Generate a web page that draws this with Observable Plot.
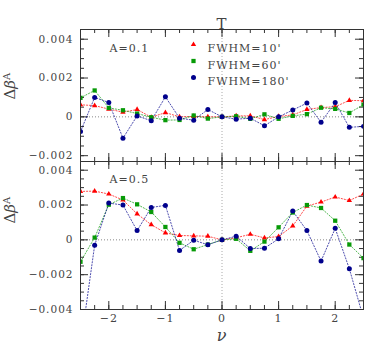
<!DOCTYPE html>
<html><head><meta charset="utf-8">
<script src="https://cdn.jsdelivr.net/npm/d3@7"></script>
<script src="https://cdn.jsdelivr.net/npm/@observablehq/plot@0.6"></script>
<style>
body{margin:0;background:#fff;}
#chart{position:relative;width:374px;height:346px;background:#fff;}
#chart svg{position:absolute;left:0;}
</style></head><body><div id="chart"></div>
<script>
// ---- data ----
const nu = [-2.5,-2.25,-2,-1.75,-1.5,-1.25,-1,-0.75,-0.5,-0.25,0,0.25,0.5,0.75,1,1.25,1.5,1.75,2,2.25,2.5];
const seriesNames = ["FWHM=10'", "FWHM=60'", "FWHM=180'"];
const panelLabels = ["A=0.1", "A=0.5"];
const titleText = "T";
const xLabel = "ν";
const yLabel = "Δβᴬ";

// A = 0.1
const topF10  = [0.00062,0.00058,0.00040,0.00024,0.00038,-0.00002,0.00022,0.00000,0.00002,0.00000,0,0.00005,0.00005,-0.00014,0.00002,0.00010,0.00038,0.00048,0.00052,0.00085,0.00083];
const topF60  = [0.00098,0.00136,0.00046,0.00034,0.00017,-0.00002,-0.00017,-0.00016,0.00007,-0.00009,0,0.00003,-0.00010,0.00013,-0.00010,0.00005,0.00014,0.00047,0.00041,0.00020,0.00063];
const topF180 = [-0.00076,0.00100,0.00074,-0.00110,0.00005,-0.00020,0.00103,-0.00007,-0.00017,0.00038,0,-0.00012,-0.00007,-0.00046,0.00000,0.00035,0.00071,-0.00028,0.00074,-0.00054,-0.00049];
// A = 0.5
const botF10  = [0.00278,0.00280,0.00263,0.00229,0.00149,0.00087,0.00040,0.00025,0.00023,0.00021,0,0.00012,0.00032,0.00011,0.00019,0.00080,0.00194,0.00217,0.00246,0.00226,0.00263];
const botF60  = [-0.00126,0.00013,0.00202,0.00240,0.00204,0.00160,0.00074,-0.00017,-0.00054,-0.00027,0,0.00006,-0.00063,-0.00010,0.00072,0.00157,0.00200,0.00183,0.00110,-0.00027,-0.00105];
const botF180 = [-0.00610,-0.00031,0.00211,0.00200,0.00053,0.00186,0.00198,-0.00061,-0.00002,-0.00028,0,0.00021,-0.00050,-0.00048,0.00006,0.00165,0.00053,-0.00122,0.00066,-0.00166,-0.00450];

const xTicks = [-2,-1,0,1,2];
const yTicksTop = [-0.002,0,0.002,0.004];
const yTicksBot = [-0.004,-0.002,0,0.002,0.004];
const refX = [0], refY = [0];

// ---- styling ----
const colors = ["#ff0000", "#079a07", "#00008c"];
const symbols = ["triangle", "square", "circle"];
const radii = [2.0, 2.4, 2.5];
const textColor = "#444";
const W = 374, ML = 80, MR = 11;
const plotW = W - ML - MR;

const fmtY = d => d === 0 ? "0" : (d < 0 ? "\u2212" : "") + Math.abs(d).toFixed(3);
const fmtX = d => d === 0 ? "0" : (d < 0 ? "\u2212" : "") + Math.abs(d);

function rows(vals) { return nu.map((x, i) => ({nu: x, v: vals[i]})); }

function tickMarks(xMaj, xMin, yMaj, yMin, plotH) {
  const c = "#333";
  return [
    Plot.ruleY(yMaj, {insetRight: plotW - 8, stroke: c}),
    Plot.ruleY(yMin, {insetRight: plotW - 4, stroke: c}),
    Plot.ruleY(yMaj, {insetLeft: plotW - 8, stroke: c}),
    Plot.ruleY(yMin, {insetLeft: plotW - 4, stroke: c}),
    Plot.ruleX(xMaj, {insetTop: plotH - 8, stroke: c}),
    Plot.ruleX(xMin, {insetTop: plotH - 4, stroke: c}),
    Plot.ruleX(xMaj, {insetBottom: plotH - 8, stroke: c}),
    Plot.ruleX(xMin, {insetBottom: plotH - 4, stroke: c})
  ];
}

function seriesMarks(series) {
  const marks = [];
  series.forEach((vals, k) => {
    marks.push(Plot.line(rows(vals), {x: "nu", y: "v", stroke: colors[k], strokeWidth: 1, strokeDasharray: "1.2,1.8", strokeOpacity: 0.7, clip: true}));
  });
  series.forEach((vals, k) => {
    marks.push(Plot.dot(rows(vals), {x: "nu", y: "v", symbol: symbols[k], r: radii[k], fill: colors[k], stroke: "none", clip: true}));
  });
  return marks;
}

const xMinor = d3.range(-2.5, 2.5001, 0.25);
const svgStyle = {fontFamily: "'DejaVu Serif', serif", fontSize: "10.5px", color: textColor, letterSpacing: "1px", overflow: "visible", background: "transparent"};

// ---- top panel ----
const topH = 162, topMT = 29, topMB = 1;
const topPlotH = topH - topMT - topMB;
const topPlot = Plot.plot({
  width: W, height: topH, marginLeft: ML, marginRight: MR, marginTop: topMT, marginBottom: topMB,
  style: svgStyle,
  x: {domain: [-2.5, 2.5], axis: null},
  y: {domain: [-0.0023, 0.0045]},
  marks: [
    Plot.ruleY(refY, {stroke: "#888", strokeDasharray: "1,2"}),
    Plot.ruleX(refX, {stroke: "#aaa", strokeDasharray: "1,2"}),
    ...tickMarks(xTicks, xMinor, [-0.002,0,0.002,0.004], d3.range(-0.002, 0.00451, 0.0005), topPlotH),
    Plot.axisY({ticks: yTicksTop, tickSize: 0, tickPadding: 7, tickFormat: fmtY, label: null}),
    ...seriesMarks([topF10, topF60, topF180]),
    Plot.frame({stroke: "#333"}),
    Plot.text([titleText], {text: d => d, frameAnchor: "top", dy: -11, fontSize: 15}),
    Plot.text([panelLabels[0]], {text: d => d, frameAnchor: "top-left", dx: 29, dy: 15, textAnchor: "start", fontSize: 11}),
    ...seriesNames.map((name, k) => Plot.dot([name], {frameAnchor: "top-left", dx: 113, dy: 15 + k * 16.5, symbol: symbols[k], r: radii[k], fill: colors[k]})),
    ...seriesNames.map((name, k) => Plot.text([name], {text: d => d, frameAnchor: "top-left", dx: 127, dy: 15 + k * 16.5, textAnchor: "start", fontSize: 11})),
    Plot.text([yLabel], {text: d => d, frameAnchor: "left", dx: -70, dy: 4, rotate: -90, fontSize: 15})
  ]
});

// ---- bottom panel ----
const botH = 186, botMT = 1, botMB = 37;
const botPlotH = botH - botMT - botMB;
const botPlot = Plot.plot({
  width: W, height: botH, marginLeft: ML, marginRight: MR, marginTop: botMT, marginBottom: botMB,
  style: svgStyle,
  x: {domain: [-2.5, 2.5]},
  y: {domain: [-0.004, 0.0045]},
  marks: [
    Plot.ruleY(refY, {stroke: "#888", strokeDasharray: "1,2"}),
    Plot.ruleX(refX, {stroke: "#aaa", strokeDasharray: "1,2"}),
    ...tickMarks(xTicks, xMinor, yTicksBot, d3.range(-0.004, 0.00451, 0.0005), botPlotH),
    Plot.axisY({ticks: yTicksBot, tickSize: 0, tickPadding: 7, tickFormat: fmtY, label: null}),
    Plot.axisX({ticks: xTicks, tickSize: 0, tickPadding: 5, tickFormat: fmtX, label: null, fontSize: 11}),
    ...seriesMarks([botF10, botF60, botF180]),
    Plot.frame({stroke: "#333"}),
    Plot.text([panelLabels[1]], {text: d => d, frameAnchor: "top-left", dx: 29, dy: 14, textAnchor: "start", fontSize: 11}),
    Plot.text([xLabel], {text: d => d, frameAnchor: "bottom", dy: 31, fontSize: 16, fontStyle: "italic"}),
    Plot.text([yLabel], {text: d => d, frameAnchor: "left", dx: -70, dy: -12, rotate: -90, fontSize: 15})
  ]
});

topPlot.style.top = "0px";
botPlot.style.top = (topH - 2) + "px";
const chart = document.getElementById("chart");
chart.appendChild(topPlot);
chart.appendChild(botPlot);

// rich y label: upright Δ, italic β, superscript A
for (const svg of [topPlot, botPlot]) {
  d3.select(svg).selectAll("text").filter(function() { return this.textContent === yLabel; }).each(function() {
    const t = d3.select(this);
    t.text(null).style("letter-spacing", "0px");
    t.append("tspan").text("Δ");
    t.append("tspan").attr("font-style", "italic").text("β");
    t.append("tspan").attr("font-size", "10px").attr("dy", "-0.55em").text("A");
  });
}
</script></body></html>
